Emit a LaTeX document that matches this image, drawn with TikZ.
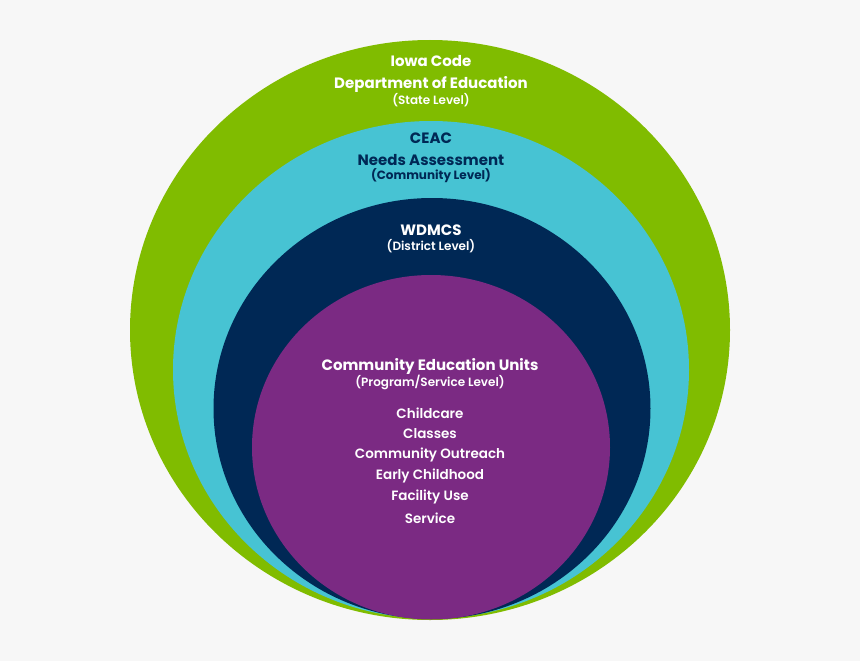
\documentclass[tikz,border=0pt]{standalone}
\usepackage{fontspec}
\setmainfont{Poppins}
\newfontfamily\psemi{Poppins SemiBold}
\definecolor{bgc}{HTML}{F7F7F7}
\definecolor{greenc}{HTML}{80BC00}
\definecolor{cyanc}{HTML}{47C3D3}
\definecolor{navyc}{HTML}{002855}
\definecolor{purplec}{HTML}{7B2A83}
\tikzset{
  head/.style={font=\bfseries\fontsize{15}{16}\selectfont, inner sep=0pt, anchor=center},
  sub/.style={font=\psemi\fontsize{12}{13}\selectfont, inner sep=0pt, anchor=center},
  subb/.style={font=\bfseries\fontsize{12}{13}\selectfont, inner sep=0pt, anchor=center},
  item/.style={font=\psemi\fontsize{13.5}{14}\selectfont, inner sep=0pt, anchor=center, text=white},
}
\begin{document}
\begin{tikzpicture}[x=1pt,y=-1pt]
\fill[bgc] (0,0) rectangle (860,661);
\useasboundingbox (0,0) rectangle (860,661);
\fill[greenc] (430,330) ellipse [x radius=300, y radius=290];
\fill[cyanc] (431,369.75) ellipse [x radius=258, y radius=248.75];
\fill[navyc] (432,408.5) ellipse [x radius=218.5, y radius=210.5];
\fill[purplec] (431,447.25) ellipse [x radius=179, y radius=172.25];
% green level
\node[head,text=white] (iowa) at (431,61) {Iowa Code};
\node[head,text=white] (doe) at (431,84) {Department of Education};
\node[sub,text=white] (state) at (431,100) {(State Level)};
% cyan level
\node[head,text=navyc] (ceac) at (431,138) {CEAC};
\node[head,text=navyc] (needs) at (431,160) {Needs Assessment};
\node[subb,text=navyc] (comm) at (431,176) {(Community Level)};
% navy level
\node[head,text=white] (wdmcs) at (431,230) {WDMCS};
\node[sub,text=white] (dist) at (431,246) {(District Level)};
% purple level
\node[head,text=white] (ceu) at (430,366) {Community Education Units};
\node[sub,text=white] (prog) at (430,382) {(Program/Service Level)};
\node[item] (i1) at (430,413) {Childcare};
\node[item] (i2) at (430,434) {Classes};
\node[item] (i3) at (430,455) {Community Outreach};
\node[item] (i4) at (430,476) {Early Childhood};
\node[item] (i5) at (430,497) {Facility Use};
\node[item] (i6) at (430,518) {Service};
\end{tikzpicture}
\end{document}
